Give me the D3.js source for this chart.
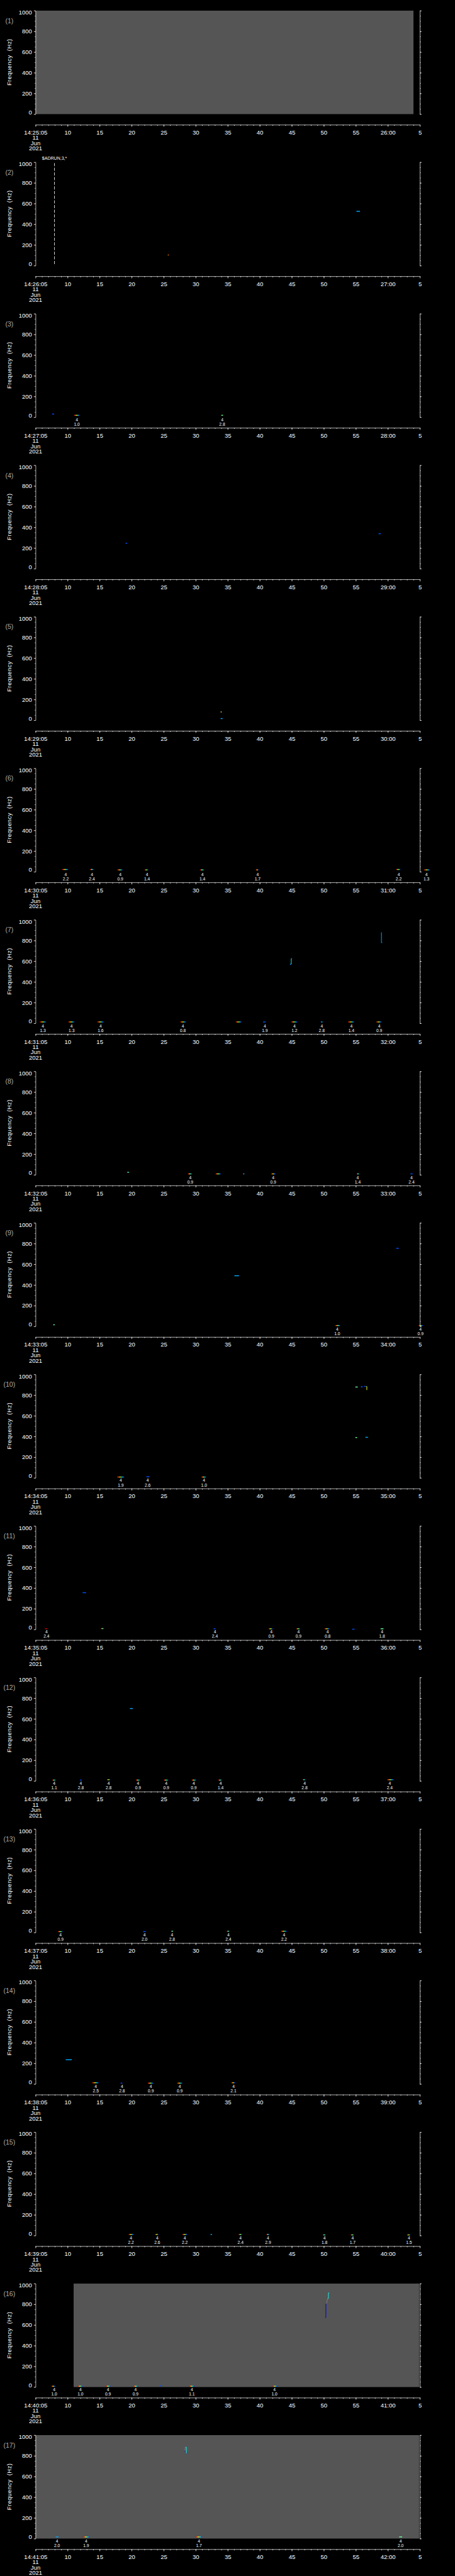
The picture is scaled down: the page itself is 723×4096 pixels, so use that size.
<!DOCTYPE html>
<html>
<head>
<meta charset="utf-8">
<script src="https://cdn.jsdelivr.net/npm/d3@7"></script>
<style>
    body { margin: 0; background: #000; }
    svg { display: block; }
</style>
</head>
<body>
<div id="chart"></div>
<script>
(function () {
    // one panel per minute, each window starts at 14:MM:05 on 11 Jun 2021
    var panelMinutes = [25, 26, 27, 28, 29, 30, 31, 32, 33, 34, 35, 36, 37, 38, 39, 40, 41];

    var freqTicks = [0, 200, 400, 600, 800, 1000];

    // [panel, t0 (s from window start), t1] grey "no data" fill
    var grayRanges = [
        [1, 0, 59], [16, 5.94, 59.9], [17, 0, 59.9]
    ];

    // [panel, t0, t1, frequency (Hz), power class]
    var blips = [
        [2, 20.65, 20.8, 103, "o"], [2, 50.1, 50.65, 525, "c"],
        [3, 2.58, 2.9, 30, "b"], [3, 6.03, 6.84, 18, "r"], [3, 29.0, 29.27, 18, "g"],
        [4, 14.05, 14.3, 246, "b"], [4, 53.55, 53.9, 338, "b"],
        [5, 28.9, 29.05, 80, "y"], [5, 28.9, 29.2, 16, "c"],
        [6, 4.17, 5.07, 22, "r"], [6, 8.52, 9.02, 22, "r"], [6, 12.78, 13.55, 18, "r"], [6, 17.04, 17.58, 18, "r"],
        [6, 25.7, 26.28, 18, "r"], [6, 34.4, 34.8, 18, "r"], [6, 56.3, 56.96, 22, "r"], [6, 60.67, 61.5, 18, "r"],
        [7, 0.68, 1.59, 13, "r"], [7, 5.12, 6.03, 13, "r"], [7, 9.65, 10.6, 13, "r"], [7, 22.6, 23.43, 13, "r"],
        [7, 31.26, 32.12, 13, "r"], [7, 35.52, 35.93, 13, "b"], [7, 39.92, 40.83, 13, "r"], [7, 44.54, 44.81, 13, "c"],
        [7, 48.8, 49.7, 13, "r"], [7, 53.2, 53.97, 13, "r"], [7, 39.72, 39.84, 568, "b"],
        [8, 14.27, 14.63, 24, "r"], [8, 23.8, 24.4, 9, "r"], [8, 28.1, 28.9, 9, "r"], [8, 32.4, 32.6, 9, "r"],
        [8, 36.8, 37.4, 9, "r"], [8, 50.16, 50.52, 9, "r"], [8, 58.54, 58.86, 9, "b"],
        [9, 2.76, 2.99, 15, "g"], [9, 31.04, 31.76, 489, "c"], [9, 56.3, 56.7, 754, "b"],
        [9, 46.8, 47.53, 8, "r"], [9, 59.8, 60.44, 8, "r"],
        [10, 12.73, 13.82, 8, "r"], [10, 17.3, 17.76, 11, "b"], [10, 25.9, 26.6, 8, "r"],
        [10, 49.93, 50.3, 878, "g"], [10, 50.8, 51.06, 880, "b"], [10, 51.3, 51.6, 884, "b"],
        [10, 49.93, 50.2, 390, "g"], [10, 51.5, 51.9, 392, "c"],
        [11, 1.45, 1.81, 6, "e"], [11, 7.34, 7.88, 355, "b"], [11, 10.2, 10.65, 8, "r"], [11, 27.8, 28.1, 6, "b"],
        [11, 36.4, 37.0, 6, "r"], [11, 40.73, 41.28, 6, "r"], [11, 45.13, 45.85, 6, "r"], [11, 49.43, 49.8, 2, "b"],
        [11, 53.87, 54.32, 6, "g"],
        [12, 2.63, 3.13, 8, "r"], [12, 6.93, 7.2, 8, "b"], [12, 11.15, 11.64, 12, "r"], [12, 15.68, 16.27, 8, "r"],
        [12, 20.03, 20.7, 8, "r"], [12, 24.38, 25.06, 8, "r"], [12, 28.55, 29.04, 8, "r"], [12, 41.73, 42.1, 12, "r"],
        [12, 54.9, 55.87, 12, "r"], [12, 14.73, 15.18, 700, "c"],
        [13, 3.5, 4.2, 8, "r"], [13, 16.8, 17.2, 8, "b"], [13, 21.16, 21.52, 12, "r"], [13, 29.86, 30.27, 12, "r"],
        [13, 38.33, 39.2, 12, "r"],
        [14, 4.71, 5.66, 235, "c"], [14, 8.84, 9.83, 12, "r"], [14, 13.28, 13.55, 8, "b"], [14, 17.53, 18.35, 8, "r"],
        [14, 22.1, 22.88, 8, "r"], [14, 30.58, 31.12, 12, "r"],
        [15, 14.54, 15.27, 10, "r"], [15, 18.67, 19.17, 10, "r"], [15, 22.93, 23.65, 10, "r"], [15, 27.32, 27.55, 10, "c"],
        [15, 31.72, 32.22, 10, "r"], [15, 36.07, 36.47, 10, "r"], [15, 44.86, 45.27, 6, "r"], [15, 49.2, 49.7, 6, "r"],
        [15, 58.0, 58.5, 6, "r"],
        [16, 2.49, 3.04, 8, "r"], [16, 6.57, 7.34, 8, "r"], [16, 10.96, 11.69, 8, "r"], [16, 15.27, 15.99, 8, "r"],
        [16, 19.44, 19.71, 12, "b"], [16, 23.97, 24.78, 8, "r"], [16, 37.0, 37.7, 8, "r"],
        [17, 3.17, 3.58, 16, "c"], [17, 7.39, 8.43, 16, "r"], [17, 24.97, 26.0, 16, "r"], [17, 56.77, 57.23, 16, "g"],
        [17, 23.28, 23.38, 846, "d"], [17, 23.6, 23.7, 827, "d"]
    ];

    // [panel, kind, [[t, Hz], ...]] short frequency sweeps
    var tracks = [
        [7, "t", [[39.78, 572], [39.92, 572], [39.92, 624], [40.02, 624]]],
        [7, "c", [[54.0, 879], [54.0, 779], [54.12, 779]]],
        [10, "y", [[51.65, 884], [51.72, 884], [51.72, 849]]],
        [10, "b", [[50.9, 874], [50.95, 888]]],
        [16, "d", [[45.2, 670], [45.33, 674], [45.33, 804], [45.42, 804]]],
        [16, "k", [[45.42, 804], [45.6, 856]]],
        [16, "t", [[45.6, 856], [45.72, 856], [45.72, 910], [45.85, 910]]],
        [17, "k", [[23.34, 846], [23.36, 884]]],
        [17, "t", [[23.42, 884], [23.55, 884], [23.55, 827], [23.65, 827]]]
    ];

    // [panel, t, count, amplitude] event annotations under the plot
    var events = [
        [3, 6.45, 4, "1.0"], [3, 29.13, 4, "2.8"],
        [6, 4.71, 4, "2.2"], [6, 8.79, 4, "2.4"], [6, 13.23, 4, "0.9"], [6, 17.4, 4, "1.4"],
        [6, 26.05, 4, "1.4"], [6, 34.66, 4, "1.7"], [6, 56.69, 4, "2.2"], [6, 61.03, 4, "1.3"],
        [7, 1.13, 4, "1.3"], [7, 5.62, 4, "1.3"], [7, 10.15, 4, "1.6"], [7, 23.0, 4, "0.8"], [7, 35.79, 4, "1.9"],
        [7, 40.42, 4, "1.2"], [7, 44.68, 4, "2.8"], [7, 49.3, 4, "1.4"], [7, 53.65, 4, "0.9"],
        [8, 24.15, 4, "0.9"], [8, 37.1, 4, "0.9"], [8, 50.3, 4, "1.4"], [8, 58.7, 4, "2.4"],
        [9, 47.1, 4, "1.0"], [9, 60.1, 4, "0.9"],
        [10, 13.3, 4, "1.9"], [10, 17.5, 4, "2.6"], [10, 26.3, 4, "1.0"],
        [11, 1.7, 4, "2.4"], [11, 28.0, 4, "2.4"], [11, 36.8, 4, "0.9"], [11, 41.05, 4, "0.9"],
        [11, 45.6, 4, "0.8"], [11, 54.1, 4, "1.8"],
        [12, 2.9, 4, "1.1"], [12, 7.07, 4, "2.8"], [12, 11.4, 4, "2.8"], [12, 16.0, 4, "0.9"], [12, 20.4, 4, "0.9"],
        [12, 24.7, 4, "0.9"], [12, 28.9, 4, "1.4"], [12, 42.0, 4, "2.8"], [12, 55.3, 4, "2.4"],
        [13, 3.9, 4, "0.9"], [13, 17.0, 4, "2.0"], [13, 21.3, 4, "2.8"], [13, 30.1, 4, "2.4"], [13, 38.8, 4, "2.2"],
        [14, 9.4, 4, "2.5"], [14, 13.5, 4, "2.8"], [14, 18.0, 4, "0.9"], [14, 22.5, 4, "0.9"], [14, 30.9, 4, "2.1"],
        [15, 14.9, 4, "2.2"], [15, 19.0, 4, "2.6"], [15, 23.3, 4, "2.2"], [15, 32.0, 4, "2.4"], [15, 36.3, 4, "2.9"],
        [15, 45.1, 4, "1.8"], [15, 49.5, 4, "1.7"], [15, 58.3, 4, "1.5"],
        [16, 2.9, 4, "1.0"], [16, 7.0, 4, "1.0"], [16, 11.3, 4, "0.9"], [16, 15.6, 4, "0.9"],
        [16, 24.4, 4, "1.1"], [16, 37.3, 4, "1.0"],
        [17, 3.35, 4, "2.0"], [17, 7.9, 4, "1.9"], [17, 25.5, 4, "1.7"], [17, 57.0, 4, "2.0"]
    ];

    // [panel, t, label] vertical dashed markers
    var markers = [[2, 2.95, "$ADRUN,3,*"]];

    var kindColor = {
        r: "url(#rainbow)", b: "#0050ff", c: "#00aaff", g: "#66ff99", y: "#e8ff30",
        o: "#ff8000", d: "#0000d0", k: "#9a9a9a", t: "#20e8e0", e: "#d00000"
    };

    var width = 1024,
        height = 5802,
        step = height / panelMinutes.length,
        left = 80,
        right = 945,
        plotH = 233,
        font = "'Liberation Sans', Arial, sans-serif";

    var svg = d3.select("#chart")
        .append("svg")
        .attr("width", 723)
        .attr("height", 4096)
        .attr("viewBox", "0 0 " + width + " " + height);

    svg.append("rect")
        .attr("width", width)
        .attr("height", height)
        .attr("fill", "#000");

    var grad = svg.append("defs").append("linearGradient").attr("id", "rainbow");
    [["0", "#d00000"], ["0.25", "#ff6000"], ["0.42", "#ffee00"], ["0.58", "#30ff80"],
        ["0.75", "#00c8ff"], ["1", "#0020ff"]].forEach(function (s) {
        grad.append("stop").attr("offset", s[0]).attr("stop-color", s[1]);
    });

    var tickFmt = d3.timeFormat("%H:%M:%S"),
        minFmt = d3.timeFormat("%M:%S");

    panelMinutes.forEach(function (m, i) {
        var n = i + 1,
            top = 24 + i * step,
            bottom = top + plotH,
            start = new Date(2021, 5, 11, 14, m, 5);

        var x = d3.scaleTime()
            .domain([start, new Date(+start + 60000)])
            .range([left, right]);
        var y = d3.scaleLinear()
            .domain([0, 1000])
            .range([bottom, top]);
        var sec = function (t) { return new Date(+start + t * 1000); };

        var g = svg.append("g").attr("class", "panel-" + n);

        // grey fill
        g.selectAll(".gray")
            .data(grayRanges.filter(function (d) { return d[0] === n; }))
            .enter().append("rect")
            .attr("x", function (d) { return x(sec(d[1])); })
            .attr("width", function (d) { return x(sec(d[2])) - x(sec(d[1])); })
            .attr("y", top)
            .attr("height", plotH)
            .attr("fill", "#555555");

        // spectral blips
        g.selectAll(".blip")
            .data(blips.filter(function (d) { return d[0] === n; }))
            .enter().append("rect")
            .attr("x", function (d) { return x(sec(d[1])); })
            .attr("width", function (d) { return Math.max(1.2, x(sec(d[2])) - x(sec(d[1]))); })
            .attr("y", function (d) { return y(d[3]) - 1; })
            .attr("height", 2)
            .attr("fill", function (d) { return kindColor[d[4]]; });

        var line = d3.line()
            .x(function (p) { return x(sec(p[0])); })
            .y(function (p) { return y(p[1]); });

        g.selectAll(".track")
            .data(tracks.filter(function (d) { return d[0] === n; }))
            .enter().append("path")
            .attr("d", function (d) { return line(d[2]); })
            .attr("fill", "none")
            .attr("stroke", function (d) { return kindColor[d[1]]; })
            .attr("stroke-width", function (d) { return d[1] === "k" ? 0.8 : 1.4; });

        // dashed markers
        markers.filter(function (d) { return d[0] === n; }).forEach(function (d) {
            g.append("line")
                .attr("x1", x(sec(d[1]))).attr("x2", x(sec(d[1])))
                .attr("y1", top + 2).attr("y2", bottom)
                .attr("stroke", "#fff")
                .attr("stroke-width", 1.2)
                .attr("stroke-dasharray", "7,3.5");
            g.append("text")
                .attr("x", x(sec(d[1])))
                .attr("y", top - 5)
                .attr("text-anchor", "middle")
                .attr("font-family", font)
                .attr("font-size", 10)
                .attr("fill", "#fff")
                .text(d[2]);
        });

        // frequency axes
        var yMajor = d3.axisLeft(y)
            .tickValues(freqTicks)
            .tickFormat(d3.format("d"))
            .tickSize(4)
            .tickSizeOuter(0)
            .tickPadding(4);
        var ly = g.append("g")
            .attr("transform", "translate(" + left + ",0)")
            .call(yMajor)
            .attr("font-family", font)
            .attr("font-size", 13.5)
            .attr("color", "#fff");
        ly.selectAll("text")
            .attr("dy", function (d) { return d === 1000 ? "0.62em" : d === 0 ? "0em" : "0.32em"; });
        g.append("g")
            .attr("transform", "translate(" + left + ",0)")
            .call(d3.axisLeft(y).ticks(20).tickSize(2).tickFormat(""))
            .attr("color", "#fff")
            .select(".domain").remove();

        g.append("g")
            .attr("transform", "translate(" + right + ",0)")
            .call(d3.axisRight(y).tickValues(freqTicks).tickSize(4).tickSizeOuter(0).tickFormat(""))
            .attr("color", "#fff");
        g.append("g")
            .attr("transform", "translate(" + right + ",0)")
            .call(d3.axisRight(y).ticks(20).tickSize(2).tickFormat(""))
            .attr("color", "#fff")
            .select(".domain").remove();

        g.append("text")
            .attr("x", 21)
            .attr("y", top + 28)
            .attr("text-anchor", "middle")
            .attr("font-family", font)
            .attr("font-size", 15)
            .attr("fill", "#a8a8a8")
            .text("(" + n + ")");

        g.append("text")
            .attr("transform", "translate(26," + (top + 116) + ") rotate(-90)")
            .attr("text-anchor", "middle")
            .attr("font-family", font)
            .attr("font-size", 13.5)
            .attr("letter-spacing", 0.6)
            .attr("fill", "#fff")
            .attr("xml:space", "preserve")
            .text("Frequency  (Hz)");

        // event annotations
        var ev = g.selectAll(".event")
            .data(events.filter(function (d) { return d[0] === n; }))
            .enter().append("g")
            .attr("transform", function (d) { return "translate(" + x(sec(d[1])) + "," + bottom + ")"; })
            .attr("font-family", font)
            .attr("font-size", 9.5)
            .attr("fill", "#fff")
            .attr("text-anchor", "middle");
        ev.append("text").attr("y", 9.3).text(function (d) { return d[2]; });
        ev.append("text").attr("y", 19.3).text(function (d) { return d[3]; });

        // time axis
        var axisY = top + 257;
        var majorTicks = x.ticks(d3.timeSecond.every(5));
        g.append("g")
            .attr("transform", "translate(0," + axisY + ")")
            .call(d3.axisBottom(x)
                .tickValues(majorTicks)
                .tickSize(4.5)
                .tickSizeOuter(0)
                .tickPadding(8)
                .tickFormat(function (d, k) {
                    if (k === 0) return tickFmt(d);
                    return d.getSeconds() === 0 ? minFmt(d) : String(d.getSeconds());
                }))
            .attr("font-family", font)
            .attr("font-size", 13.5)
            .attr("color", "#fff");
        g.append("g")
            .attr("transform", "translate(0," + axisY + ")")
            .call(d3.axisBottom(x).ticks(d3.timeSecond.every(1)).tickSize(2.5).tickFormat(""))
            .attr("color", "#fff")
            .select(".domain").remove();

        var dateLines = [d3.timeFormat("%-d")(start), d3.timeFormat("%b")(start), d3.timeFormat("%Y")(start)];
        g.selectAll(".date")
            .data(dateLines)
            .enter().append("text")
            .attr("x", left)
            .attr("y", function (d, k) { return axisY + 34 + k * 12; })
            .attr("text-anchor", "middle")
            .attr("font-family", font)
            .attr("font-size", 13.5)
            .attr("fill", "#fff")
            .text(function (d) { return d; });
    });
})();
</script>
</body>
</html>
